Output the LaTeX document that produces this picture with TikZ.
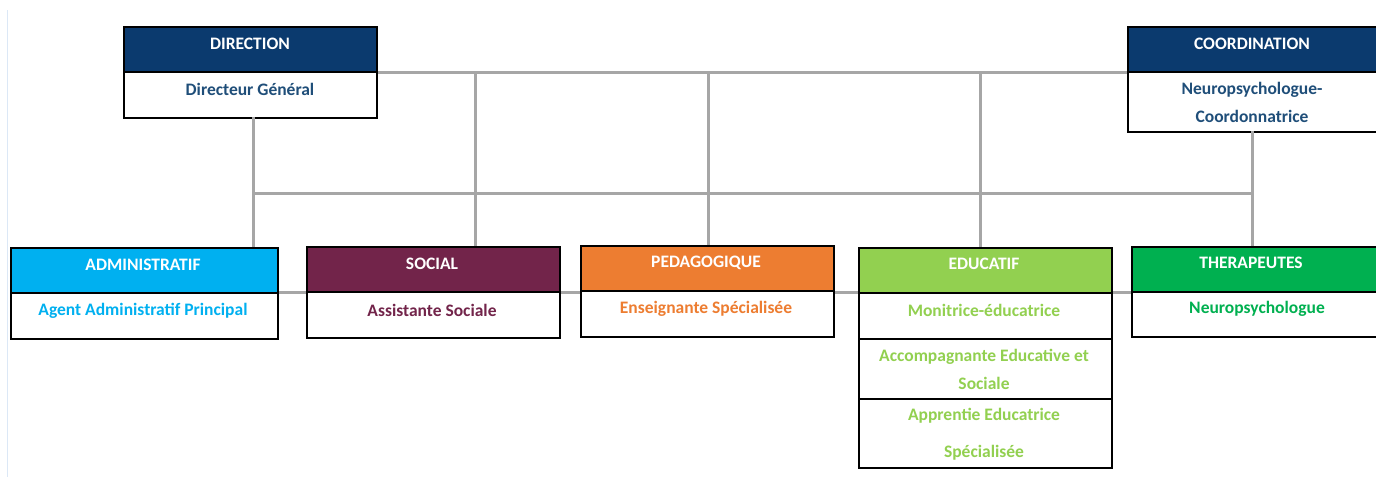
\documentclass[tikz,border=0pt]{standalone}
\usepackage{fontspec}
\setmainfont{Carlito}
\usetikzlibrary{calc}
\definecolor{navy}{RGB}{11,58,110}
\definecolor{navytxt}{RGB}{31,78,121}
\definecolor{cyanb}{RGB}{0,176,240}
\definecolor{wine}{RGB}{114,36,74}
\definecolor{orangeb}{RGB}{237,125,49}
\definecolor{lgreen}{RGB}{146,208,80}
\definecolor{dgreen}{RGB}{0,176,80}
\definecolor{linegray}{RGB}{166,166,166}
\definecolor{edge}{RGB}{220,232,246}
\tikzset{
  x=1pt, y=-1pt,
  hdr/.style={draw=black, line width=1.8pt, fill=#1, anchor=north west, inner sep=0pt, minimum width=253pt, minimum height=45pt},
  bod/.style={draw=black, line width=1.8pt, fill=white, anchor=north west, inner sep=0pt, minimum width=253pt},
  htxt/.style={text=white, font=\fontsize{17.5}{21}\selectfont\bfseries, inner sep=0pt},
  btxt/.style={text=#1, font=\fontsize{17.5}{21}\selectfont\bfseries, inner sep=0pt},
  conn/.style={draw=linegray, line width=3pt},
}
\begin{document}
\begin{tikzpicture}
\useasboundingbox (0,0) rectangle (1376,477);
\clip (0,0) rectangle (1376,477);
\draw[edge, line width=1pt] (7,10) -- (7,477);
% connector coordinates
\coordinate (h1) at (277,292);
\coordinate (h2) at (1131,292);
\draw[conn] (h1) -- (h2);
% boxes
\node[hdr=navy] (dirH) at (123,26) {};
\node[bod, minimum height=46pt] (dirB) at (123,71) {};
\node[hdr=navy, minimum width=250pt] (coH) at (1127,26) {};
\node[bod, minimum width=250pt, minimum height=60pt] (coB) at (1127,71) {};
\node[hdr=cyanb, minimum width=267pt] (admH) at (10,247) {};
\node[bod, minimum width=267pt, minimum height=46pt] (admB) at (10,292) {};
\node[hdr=wine] (socH) at (306,246) {};
\node[bod, minimum height=46pt] (socB) at (306,291) {};
\node[hdr=orangeb] (pedH) at (580,245) {};
\node[bod, minimum height=46pt] (pedB) at (580,290) {};
\node[hdr=lgreen] (eduH) at (858,247) {};
\node[bod, minimum height=46pt] (eduB1) at (858,292) {};
\node[bod, minimum height=60pt] (eduB2) at (858,338) {};
\node[bod, minimum height=69pt] (eduB3) at (858,398) {};
\node[hdr=dgreen, minimum width=250pt] (thH) at (1131,246) {};
\node[bod, minimum width=250pt, minimum height=45pt] (thB) at (1131,291) {};
% connectors
\coordinate (v1) at (475,71);
\coordinate (v2) at (708,71);
\coordinate (v3) at (980,71);
\coordinate (dv) at (253,117);
\coordinate (cv) at (1252,131);
\coordinate (m1) at (253,193);
\coordinate (m2) at (1252,193);
\draw[conn] (dirH.south east) -- (coH.south west);
\draw[conn] (v1) -- (v1 |- socH.north);
\draw[conn] (v2) -- (v2 |- pedH.north);
\draw[conn] (v3) -- (v3 |- eduH.north);
\draw[conn] (dv) -- (dv |- admH.north);
\draw[conn] (cv) -- (cv |- thH.north);
\draw[conn] (m1) -- (m2);
% texts
\node[htxt] (t1) at (250,44) {DIRECTION};
\node[btxt=navytxt] (t2) at (250,89) {Directeur Général};
\node[htxt] (t3) at (1252,44) {COORDINATION};
\node[btxt=navytxt] (t4) at (1252,90) {Neuropsychologue-};
\node[btxt=navytxt] (t5) at (1252,116) {Coordonnatrice};
\node[htxt] (t6) at (143,265) {ADMINISTRATIF};
\node[btxt=cyanb] (t7) at (143,311) {Agent Administratif Principal};
\node[htxt] (t8) at (432,264) {SOCIAL};
\node[btxt=wine] (t9) at (432,310) {Assistante Sociale};
\node[htxt] (t10) at (706,263) {PEDAGOGIQUE};
\node[btxt=orangeb] (t11) at (706,309) {Enseignante Spécialisée};
\node[htxt] (t12) at (984,264) {EDUCATIF};
\node[btxt=lgreen] (t13) at (984,310) {Monitrice-éducatrice};
\node[btxt=lgreen] (t14) at (984,357) {Accompagnante Educative et};
\node[btxt=lgreen] (t15) at (984,383) {Sociale};
\node[btxt=lgreen] (t16) at (984,416) {Apprentie Educatrice};
\node[btxt=lgreen] (t17) at (984,453) {Spécialisée};
\node[htxt] (t18) at (1251,263) {THERAPEUTES};
\node[btxt=dgreen] (t19) at (1257,309) {Neuropsychologue};
\end{tikzpicture}
\end{document}
